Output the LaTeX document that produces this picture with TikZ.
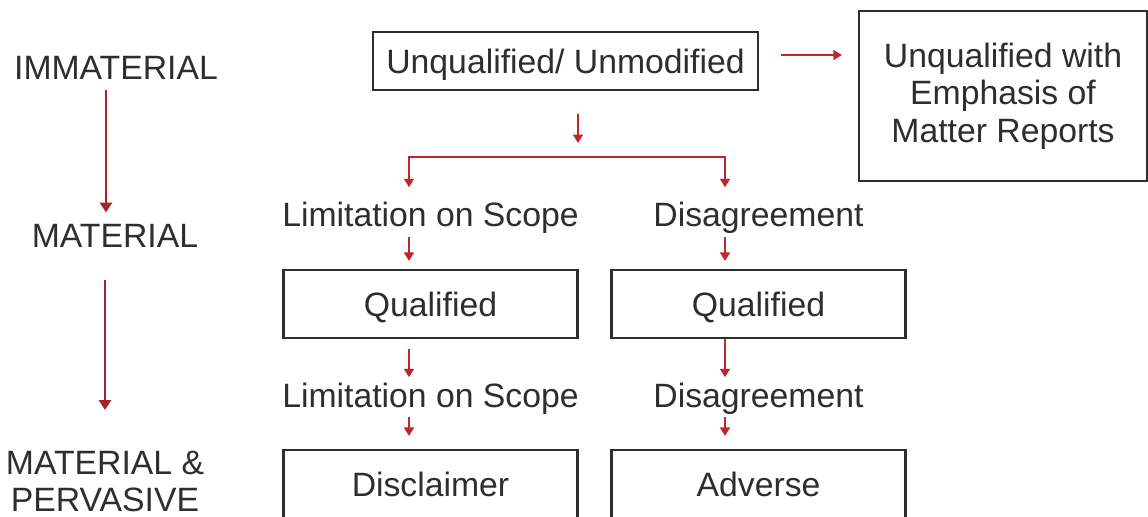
\documentclass[tikz,border=0pt]{standalone}
\usepackage{fontspec}
\setmainfont{Liberation Sans}
\usetikzlibrary{arrows.meta}

\definecolor{arrowred}{HTML}{C0272D}
\definecolor{darkred}{HTML}{A0252C}
\definecolor{inkgray}{HTML}{2E2E2E}

\begin{document}
\begin{tikzpicture}[x=0.025cm, y=-0.025cm,
    every node/.style={inner sep=0pt, text=inkgray, font=\fontsize{24}{29}\selectfont},
    opinion/.style={rectangle, draw=inkgray, line width=1.5pt, text height=17.2pt, text depth=0pt},
    redarrow/.style={draw=arrowred, line width=1.4pt, -{Triangle[width=7pt,length=6pt]}},
    bigarrow/.style={draw=darkred, line width=2pt, -{Triangle[width=8.5pt,length=7pt]}}]
% Constants
\def\boxHeight{1.7cm} % Height of the opinion boxes
\def\colWidth{7.35cm} % Width of the two lower columns

% Page frame
\useasboundingbox (0,0) rectangle (1148,517);

% Scale of materiality on the left
\node[anchor=base] (imm) at (116,80) {IMMATERIAL};
\node[anchor=base] (mat) at (115,248) {MATERIAL};
\node[anchor=north, align=center, font=\fontsize{24}{26.5}\selectfont] (matper) at (105,451) {MATERIAL \&\\PERVASIVE};
\draw[bigarrow, shorten <=0.25cm, shorten >=0.3cm] ([xshift=-0.25cm]imm.south) -- ([xshift=-0.25cm]imm.south |- mat.north);
\draw[bigarrow, shorten <=0.8cm, shorten >=1.025cm] ([xshift=-0.25cm]mat.south) -- ([xshift=-0.25cm]mat.south |- matper.north);

% Top opinion and the emphasis box
\node[opinion, minimum width=9.625cm, minimum height=1.45cm] (unq) at (565.5,61) {Unqualified/ Unmodified};
\node[rectangle, draw=inkgray, line width=1.5pt, align=center, minimum width=7.2cm, minimum height=4.25cm,
    font=\fontsize{24}{26.7}\selectfont] (emph) at (1003,96)
    {Unqualified with\\Emphasis of\\Matter Reports};
\draw[redarrow, shorten <=0.55cm, shorten >=0.4cm] ([yshift=0.15cm]unq.east) -- ([yshift=0.15cm]unq.east -| emph.west);

% Split into the two columns
\coordinate (fork) at (578,157);
\draw[redarrow, shorten <=0.575cm, shorten >=0.35cm] (unq.south -| fork) -- (fork);

% Draw the two columns
\foreach \c/\ax/\tx/\reason/\final/\gap in {A/409/430.5/Limitation on Scope/Disclaimer/0.25cm, B/725/758.5/Disagreement/Adverse/0cm} {
    \coordinate (ax-\c) at (\ax,157);
    \node[anchor=base] (reason1-\c) at (\tx,227) {\reason};
    \node[opinion, minimum width=\colWidth, minimum height=\boxHeight] (qual-\c) at (\tx,304) {Qualified};
    \node[anchor=base] (reason2-\c) at (\tx,407) {\reason};
    \node[opinion, minimum width=\colWidth, minimum height=\boxHeight] (final-\c) at (\tx,484) {\final};
    % arrows down the column
    \draw[redarrow, shorten <=0.075cm, shorten >=0.2cm] (reason1-\c.south -| ax-\c) -- (qual-\c.north -| ax-\c);
    \draw[redarrow, shorten <=\gap, shorten >=0.125cm] (qual-\c.south -| ax-\c) -- (reason2-\c.north -| ax-\c);
    \draw[redarrow, shorten <=0.075cm, shorten >=0.325cm] (reason2-\c.south -| ax-\c) -- (final-\c.north -| ax-\c);
}

% Bracket from the fork to both columns
\draw[redarrow, {Triangle[width=7pt,length=6pt]}-{Triangle[width=7pt,length=6pt]}, shorten <=0.375cm, shorten >=0.375cm]
    (reason1-A.north -| ax-A) |- (fork) -| (reason1-B.north -| ax-B);

\end{tikzpicture}
\end{document}
